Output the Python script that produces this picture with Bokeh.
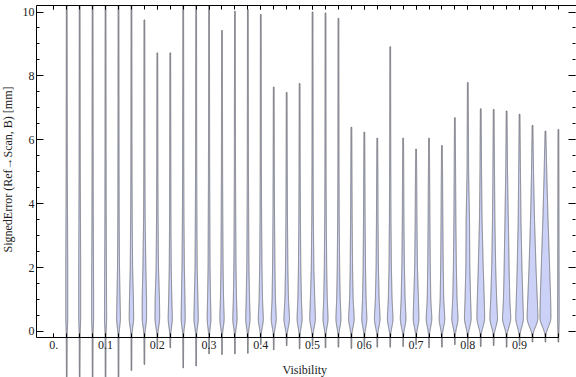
import numpy as np
from math import pi
from bokeh.plotting import figure
from bokeh.models import Range1d, LinearAxis, FixedTicker, SingleIntervalTicker, Label
from bokeh.embed import file_html
from bokeh.resources import INLINE

# ---------------- data ----------------
visibility = [0.025, 0.05, 0.075, 0.1, 0.125, 0.15, 0.175, 0.2, 0.225, 0.25,
              0.275, 0.3, 0.325, 0.35, 0.375, 0.4, 0.425, 0.45, 0.475, 0.5,
              0.525, 0.55, 0.575, 0.6, 0.625, 0.65, 0.675, 0.7, 0.725, 0.75,
              0.775, 0.8, 0.825, 0.85, 0.875, 0.9, 0.925, 0.95, 0.975]

err_min = [-1.6, -1.6, -1.6, -1.6, -1.6, -1.22, -1.03, -0.51, -0.51, -1.14,
           -1.08, -0.70, -0.72, -0.70, -0.68, -0.41, -0.57, -0.44, -0.54, -0.45,
           -0.51, -0.49, -0.53, -0.47, -0.49, -0.49, -0.47, -0.41, -0.51, -0.49,
           -0.41, -0.49, -0.47, -0.44, -0.49, -0.44, -0.33, -0.33, -0.33]

# 10.2 = cut at the top of the plot range
err_max = [10.2, 10.2, 10.2, 10.2, 10.2, 10.2, 9.75, 8.72, 8.72, 10.2,
           10.2, 10.2, 9.42, 10.02, 10.08, 9.92, 7.65, 7.48, 7.76, 10.0,
           9.97, 9.80, 6.39, 6.24, 6.05, 8.91, 6.05, 5.71, 6.05, 5.82,
           6.69, 7.79, 6.97, 6.95, 6.90, 6.80, 6.45, 6.27, 6.32]

# density (violin half-width) at fixed error levels
dens_levels = [0.35, 1.0, 2.0, 3.5, 5.0]
dens_035 = [1.0, 1.0, 1.0, 1.1, 2.0, 2.3, 2.2, 2.4, 2.2, 2.1,
            2.3, 2.0, 2.3, 2.3, 2.3, 2.7, 2.7, 3.0, 2.7, 3.0,
            2.7, 2.7, 3.0, 2.7, 3.0, 3.0, 3.0, 3.0, 3.0, 3.0,
            3.3, 3.5, 4.0, 4.0, 4.3, 4.0, 5.6, 5.6, 0.8]
dens_100 = [1.0, 1.0, 1.0, 1.0, 1.6, 2.0, 2.2, 2.2, 1.6, 1.8,
            1.8, 1.5, 1.6, 1.6, 1.7, 1.7, 1.7, 1.8, 1.8, 2.2,
            1.8, 1.8, 1.8, 1.8, 1.9, 1.9, 2.0, 2.4, 1.8, 1.8,
            2.2, 2.8, 3.5, 3.0, 3.2, 3.3, 4.8, 5.2, 0.8]
dens_200 = [1.0, 1.0, 0.9, 0.9, 1.0, 1.2, 1.5, 1.2, 1.0, 1.2,
            1.1, 1.0, 1.1, 1.1, 1.1, 1.2, 1.2, 1.2, 1.2, 1.3,
            1.2, 1.2, 1.2, 1.2, 1.2, 1.2, 1.3, 1.4, 1.3, 1.3,
            1.5, 2.0, 2.5, 2.0, 2.5, 2.4, 3.5, 4.2, 0.7]
dens_350 = [0.8, 0.8, 0.7, 0.7, 0.7, 0.8, 0.8, 0.8, 0.7, 0.8,
            0.8, 0.8, 0.8, 0.8, 0.8, 0.8, 0.8, 0.8, 0.8, 0.8,
            0.8, 0.8, 0.8, 0.8, 0.8, 0.8, 0.8, 0.9, 0.9, 0.9,
            1.0, 1.7, 1.3, 1.2, 1.7, 1.4, 2.0, 2.6, 0.6]
dens_500 = [0.6, 0.6, 0.6, 0.6, 0.6, 0.6, 0.6, 0.6, 0.6, 0.6,
            0.6, 0.6, 0.6, 0.6, 0.6, 0.6, 0.6, 0.6, 0.6, 0.6,
            0.6, 0.6, 0.6, 0.6, 0.6, 0.6, 0.6, 0.6, 0.6, 0.6,
            0.7, 0.8, 0.8, 0.8, 0.9, 0.9, 1.0, 1.3, 0.5]
dens_tail = 0.5

x_ticks = [0.0, 0.1, 0.2, 0.3, 0.4, 0.5, 0.6, 0.7, 0.8, 0.9]
x_tick_labels = ["0.", "0.1", "0.2", "0.3", "0.4", "0.5", "0.6", "0.7", "0.8", "0.9"]
x_minor = [0.0] + visibility
x_label = "Visibility"
y_label = "SignedError (Ref\u2192Scan, B) [mm]"

# ---------------- geometry ----------------
# the frame covers the whole canvas; the axes sit at fixed locations in it
X0, X1 = -0.1030, 1.0100
Y0, Y1 = -1.44, 10.36
XA0, XA1 = -0.0334, 1.0085
YA0, YA1 = -0.2, 10.2
DENS_TO_X = 1.0 / 517.5

kern = np.exp(-0.5 * (np.arange(-24, 25) / 8.0) ** 2)
kern /= kern.sum()

xs_list, ys_list = [], []
for i, xc in enumerate(visibility):
    ky = [err_min[i], -0.05] + dens_levels + [err_max[i]]
    kw = [0.3, dens_tail, dens_035[i], dens_100[i], dens_200[i], dens_350[i], dens_500[i], 0.4]
    y = np.arange(err_min[i], err_max[i] + 1e-9, 0.01)
    w = np.interp(y, ky, kw)
    w = np.convolve(np.pad(w, 24, mode="edge"), kern, mode="valid")
    hw = w * DENS_TO_X
    xs_list.append(np.concatenate([xc - hw, (xc + hw)[::-1]]))
    ys_list.append(np.concatenate([y, y[::-1]]))

FONT = "Liberation Serif"
TXT = "#222222"

p = figure(width=576, height=377, x_range=Range1d(X0, X1), y_range=Range1d(Y0, Y1),
           output_backend="svg", toolbar_location=None,
           min_border_left=0, min_border_right=0, min_border_top=0, min_border_bottom=0,
           margin=(0, 0, -8, 0))
p.outline_line_color = None
p.grid.visible = False
p.background_fill_color = "white"
p.border_fill_color = "white"

p.patches(xs_list, ys_list, fill_color="#ccd2f7", line_color="#555555",
          line_width=0.85, line_alpha=0.85)

# bottom axis
xa = p.xaxis[0]
xa.fixed_location = YA0
xa.ticker = FixedTicker(ticks=x_ticks, minor_ticks=x_minor)
xa.major_label_overrides = {t: s for t, s in zip(x_ticks, x_tick_labels)}
xa.bounds = (XA0, 0.975)
xa.major_tick_in = 4
xa.major_tick_out = 0
xa.minor_tick_in = 4
xa.minor_tick_out = 0
xa.major_label_standoff = 3
xa.major_label_text_font = FONT
xa.major_label_text_font_size = "12px"
xa.major_label_text_color = TXT
xa.axis_line_color = "black"

# left axis
ya = p.yaxis[0]
ya.fixed_location = XA0
ya.ticker = SingleIntervalTicker(interval=2, num_minor_ticks=4)
ya.bounds = (YA0, YA1)
ya.major_tick_in = 7
ya.major_tick_out = 0
ya.minor_tick_in = 3
ya.minor_tick_out = 0
ya.major_label_standoff = 2
ya.major_label_text_font = FONT
ya.major_label_text_font_size = "12px"
ya.major_label_text_color = TXT

# top frame edge with ticks
top = LinearAxis(fixed_location=YA1, ticker=FixedTicker(ticks=x_ticks, minor_ticks=x_minor),
                 bounds=(XA0, X1),
                 major_tick_in=4, major_tick_out=0, minor_tick_in=4, minor_tick_out=0,
                 major_label_text_font_size="0px", major_label_text_color=None,
                 major_label_standoff=0)
p.add_layout(top, "above")

# right frame edge: ticks only
right = LinearAxis(fixed_location=XA1, ticker=SingleIntervalTicker(interval=2, num_minor_ticks=4),
                   bounds=(YA0, YA1), axis_line_color=None,
                   major_tick_in=7, major_tick_out=0, minor_tick_in=3, minor_tick_out=0,
                   major_label_text_font_size="0px", major_label_text_color=None,
                   major_label_standoff=0)
p.add_layout(right, "right")

p.add_layout(Label(x=0.485, y=-1.19, text=x_label, text_align="center",
                   text_baseline="alphabetic", text_font=FONT, text_font_size="12px",
                   text_color=TXT))
p.add_layout(Label(x=-0.0885, y=5.07, text=y_label, angle=pi / 2, text_align="center",
                   text_baseline="middle", text_font=FONT, text_font_size="12px",
                   text_color=TXT))

open("out.html", "w").write(file_html(p, INLINE))
